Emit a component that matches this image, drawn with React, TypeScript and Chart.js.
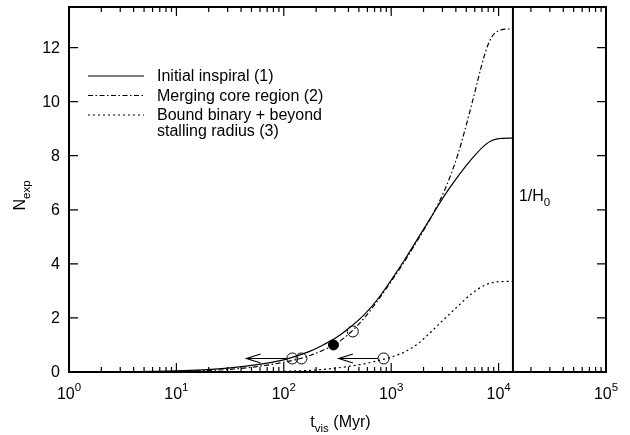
import React, { useEffect, useRef } from 'react';
import { Chart, registerables } from 'chart.js';

Chart.register(...registerables);

// ---- data ----
const tVis = [1, 3.16, 10, 17.8, 31.6, 56.2, 100, 133, 178, 237, 316, 422, 562, 750, 1000, 1334, 1778, 2371, 3162, 4217, 5623, 7499, 8660, 10000, 13600];
const inspiral = [0, 0.01, 0.04, 0.08, 0.15, 0.27, 0.45, 0.6, 0.78, 1.02, 1.3, 1.68, 2.12, 2.7, 3.4, 4.15, 4.95, 5.75, 6.55, 7.25, 7.88, 8.4, 8.56, 8.63, 8.65];
const mergingCore = [0, 0.005, 0.02, 0.05, 0.1, 0.2, 0.36, 0.47, 0.62, 0.82, 1.08, 1.48, 2.0, 2.65, 3.35, 4.1, 4.9, 5.75, 6.75, 8.1, 9.9, 11.8, 12.4, 12.62, 12.7];
const boundBinary = [0, 0, 0, 0, 0.005, 0.01, 0.02, 0.04, 0.06, 0.1, 0.15, 0.22, 0.3, 0.42, 0.55, 0.74, 1.05, 1.5, 1.98, 2.45, 2.9, 3.22, 3.3, 3.34, 3.35];

const openX = [120, 146, 439, 850];
const openY = [0.5, 0.5, 1.5, 0.5];
const filledX = [290];
const filledY = [1.0];
const arrowFromX = [120, 850];
const arrowToX = [45, 326];
const arrowY = [0.5, 0.5];

const hubbleTime = 13600;
const hubbleLabel = '1/H';
const hubbleSub = '0';

const xMin = 1;
const xMax = 100000;
const yMin = 0;
const yMax = 13.5;
const xMajorTicks = [1, 10, 100, 1000, 10000, 100000];
const xTickExponents = ['0', '1', '2', '3', '4', '5'];
const xMinorMultipliers = [2, 3, 4, 5, 6, 7, 8, 9];
const yTicks = [0, 2, 4, 6, 8, 10, 12];

const legendLines = [['Initial inspiral (1)'], ['Merging core region (2)'], ['Bound binary + beyond', 'stalling radius (3)']];
const dashDot = [5, 2.5, 1.5, 2.5];
const dotted = [2, 3];
const legendDashes = [[], dashDot, dotted];

const FONT = '"Liberation Sans", Arial, Helvetica, sans-serif';

function pts(xs: number[], ys: number[]) {
  return xs.map((x, i) => ({ x, y: ys[i] }));
}

const decorPlugin = {
  id: 'decor',
  afterDraw(chart: any) {
    const ctx: CanvasRenderingContext2D = chart.ctx;
    const xs = chart.scales.x;
    const ys = chart.scales.y;
    const a = chart.chartArea;
    ctx.save();
    ctx.strokeStyle = '#000';
    ctx.fillStyle = '#000';
    ctx.setLineDash([]);

    // arrows
    ctx.lineWidth = 1.2;
    for (let i = 0; i < arrowFromX.length; i++) {
      const x0 = xs.getPixelForValue(arrowFromX[i]) - 5.5;
      const x1 = xs.getPixelForValue(arrowToX[i]);
      const y = ys.getPixelForValue(arrowY[i]);
      ctx.beginPath();
      ctx.moveTo(x0, y);
      ctx.lineTo(x1, y);
      ctx.moveTo(x1 + 14, y - 4.5);
      ctx.lineTo(x1, y);
      ctx.lineTo(x1 + 14, y + 4.5);
      ctx.stroke();
    }

    // ticks
    ctx.lineWidth = 1.2;
    ctx.beginPath();
    for (let d = 0; d < xMajorTicks.length; d++) {
      const base = xMajorTicks[d];
      const px = xs.getPixelForValue(base);
      ctx.moveTo(px, a.bottom); ctx.lineTo(px, a.bottom - 9);
      ctx.moveTo(px, a.top); ctx.lineTo(px, a.top + 9);
      if (d < xMajorTicks.length - 1) {
        for (const m of xMinorMultipliers) {
          const p = xs.getPixelForValue(base * m);
          ctx.moveTo(p, a.bottom); ctx.lineTo(p, a.bottom - 5);
          ctx.moveTo(p, a.top); ctx.lineTo(p, a.top + 5);
        }
      }
    }
    for (const v of yTicks) {
      const py = ys.getPixelForValue(v);
      ctx.moveTo(a.left, py); ctx.lineTo(a.left + 9, py);
      ctx.moveTo(a.right, py); ctx.lineTo(a.right - 9, py);
    }
    ctx.stroke();

    // border
    ctx.lineWidth = 2;
    ctx.strokeRect(a.left, a.top, a.right - a.left, a.bottom - a.top);

    // y tick labels
    ctx.font = `16px ${FONT}`;
    ctx.textAlign = 'right';
    ctx.textBaseline = 'middle';
    for (const v of yTicks) {
      ctx.fillText(String(v), a.left - 9, ys.getPixelForValue(v) + 1);
    }

    // x tick labels
    ctx.textBaseline = 'alphabetic';
    ctx.textAlign = 'left';
    for (let i = 0; i < xMajorTicks.length; i++) {
      const px = xs.getPixelForValue(xMajorTicks[i]);
      ctx.font = `16px ${FONT}`;
      const w1 = ctx.measureText('10').width;
      ctx.font = `11.5px ${FONT}`;
      const w2 = ctx.measureText(xTickExponents[i]).width;
      const x0 = px - (w1 + w2) / 2;
      ctx.font = `16px ${FONT}`;
      ctx.fillText('10', x0, a.bottom + 27);
      ctx.font = `11.5px ${FONT}`;
      ctx.fillText(xTickExponents[i], x0 + w1, a.bottom + 19);
    }

    // x title
    {
      ctx.font = `16px ${FONT}`;
      const wt = ctx.measureText('t').width;
      const wr = ctx.measureText(' (Myr)').width;
      ctx.font = `11.5px ${FONT}`;
      const ws = ctx.measureText('vis').width;
      const cx = (a.left + a.right) / 2 + 3;
      const x0 = cx - (wt + ws + wr) / 2;
      const by = a.bottom + 55;
      ctx.font = `16px ${FONT}`;
      ctx.fillText('t', x0, by);
      ctx.fillText(' (Myr)', x0 + wt + ws, by);
      ctx.font = `11.5px ${FONT}`;
      ctx.fillText('vis', x0 + wt, by + 5);
    }

    // y title
    {
      ctx.save();
      ctx.translate(25, (a.top + a.bottom) / 2 + 6);
      ctx.rotate(-Math.PI / 2);
      ctx.font = `16px ${FONT}`;
      const wn = ctx.measureText('N').width;
      ctx.font = `11.5px ${FONT}`;
      const we = ctx.measureText('exp').width;
      const x0 = -(wn + we) / 2;
      ctx.font = `16px ${FONT}`;
      ctx.fillText('N', x0, 0);
      ctx.font = `11.5px ${FONT}`;
      ctx.fillText('exp', x0 + wn, 5);
      ctx.restore();
    }

    // 1/H0 label
    {
      const px = xs.getPixelForValue(hubbleTime) + 6;
      const by = ys.getPixelForValue(6.4) + 2;
      ctx.font = `16px ${FONT}`;
      ctx.fillText(hubbleLabel, px, by);
      const w = ctx.measureText(hubbleLabel).width;
      ctx.font = `11.5px ${FONT}`;
      ctx.fillText(hubbleSub, px + w, by + 5);
    }

    // legend
    const rowY = [76, 95.5, 115];
    const sub = 16;
    for (let i = 0; i < legendLines.length; i++) {
      ctx.lineWidth = 1.2;
      ctx.setLineDash(legendDashes[i]);
      ctx.beginPath();
      ctx.moveTo(88, rowY[i]);
      ctx.lineTo(144, rowY[i]);
      ctx.stroke();
      ctx.setLineDash([]);
      ctx.font = `16px ${FONT}`;
      ctx.textBaseline = 'middle';
      legendLines[i].forEach((ln, j) => {
        ctx.fillText(ln, 157, rowY[i] + 1 + j * sub);
      });
      ctx.textBaseline = 'alphabetic';
    }
    ctx.restore();
  },
};

export default function App() {
  const ref = useRef<HTMLCanvasElement | null>(null);
  useEffect(() => {
    document.body.style.margin = '0';
    const canvas = ref.current!;
    const chart = new Chart(canvas, {
      type: 'line',
      data: {
        datasets: [
          { label: 'Initial inspiral (1)', data: pts(tVis, inspiral), borderColor: '#000', borderWidth: 1.2, pointRadius: 0, fill: false, cubicInterpolationMode: 'monotone' } as any,
          { label: 'Merging core region (2)', data: pts(tVis, mergingCore), borderColor: '#000', borderWidth: 1.2, borderDash: dashDot, pointRadius: 0, fill: false, cubicInterpolationMode: 'monotone' } as any,
          { label: 'Bound binary + beyond stalling radius (3)', data: pts(tVis, boundBinary), borderColor: '#000', borderWidth: 1.2, borderDash: dotted, pointRadius: 0, fill: false, cubicInterpolationMode: 'monotone' } as any,
          { label: '1/H0', data: [{ x: hubbleTime, y: yMin }, { x: hubbleTime, y: yMax }], borderColor: '#000', borderWidth: 2, pointRadius: 0, fill: false } as any,
          { label: 'open', data: pts(openX, openY), showLine: false, pointRadius: 5.5, pointBorderWidth: 1, pointBorderColor: '#000', pointBackgroundColor: 'rgba(0,0,0,0)', borderColor: '#000' } as any,
          { label: 'filled', data: pts(filledX, filledY), showLine: false, pointRadius: 5, pointBorderWidth: 1, pointBorderColor: '#000', pointBackgroundColor: '#000', borderColor: '#000' } as any,
        ],
      },
      options: {
        responsive: false,
        animation: false,
        devicePixelRatio: 1,
        layout: { padding: { left: 69, right: 24, top: 7, bottom: 63 } },
        plugins: { legend: { display: false }, tooltip: { enabled: false } },
        scales: {
          x: { type: 'logarithmic', min: xMin, max: xMax, display: false },
          y: { type: 'linear', min: yMin, max: yMax, display: false },
        },
        elements: { line: { tension: 0 } },
      },
      plugins: [decorPlugin],
    } as any);
    return () => chart.destroy();
  }, []);
  return <canvas ref={ref} width={630} height={435} style={{ display: 'block' }} />;
}
